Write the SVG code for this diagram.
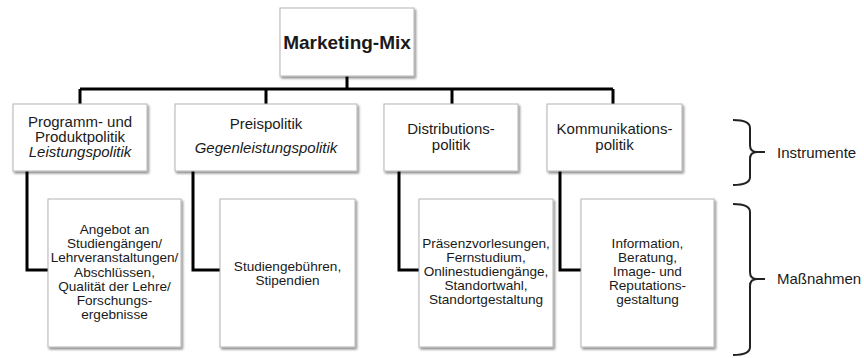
<svg xmlns="http://www.w3.org/2000/svg" width="864" height="358" viewBox="0 0 864 358">
<defs>
<filter id="sh" x="-10%" y="-10%" width="130%" height="130%">
<feDropShadow dx="1.5" dy="2" stdDeviation="1" flood-color="#000" flood-opacity="0.45"/>
</filter>
</defs>
<style>
.box{fill:#fff;stroke:#b4b4b4;stroke-width:1;filter:url(#sh)}
.t{font-family:"Liberation Sans",Arial,sans-serif;fill:#1a1a1a;text-anchor:middle}
.l1{font-size:15px}
.l2{font-size:13.6px}
.it{font-style:italic}
.con{fill:none;stroke:#000;stroke-width:3}
.br{fill:none;stroke:#222;stroke-width:2}
.lab{font-family:"Liberation Sans",Arial,sans-serif;fill:#1a1a1a;font-size:15px}
</style>
<rect width="864" height="358" fill="#fff"/>
<g id="connectors">
<path class="con" d="M347,76V89M80,89H613M80,89V104M266,89V104M452,89V104M613,89V104"/>
<path class="con" d="M27,171V270H48M193,171V270H220M399,171V270H419M560,171V270H581"/>
</g>
<g id="marketing-mix">
<rect class="box" x="280" y="8" width="134" height="68"/>
<text class="t" x="347" y="49" style="font-size:19px;font-weight:bold">Marketing-Mix</text>
</g>
<g id="programm">
<rect class="box" x="13" y="104" width="134" height="67"/>
<text class="t l1" x="80" y="127">Programm- und</text>
<text class="t l1" x="80" y="142">Produktpolitik</text>
<text class="t l1 it" x="80" y="157">Leistungspolitik</text>
</g>
<g id="preis">
<rect class="box" x="175" y="104" width="182" height="67"/>
<text class="t l1" x="266" y="129">Preispolitik</text>
<text class="t l1 it" x="266" y="153">Gegenleistungspolitik</text>
</g>
<g id="distribution">
<rect class="box" x="384" y="104" width="134" height="67"/>
<text class="t l1" x="451" y="134">Distributions-</text>
<text class="t l1" x="451" y="150">politik</text>
</g>
<g id="kommunikation">
<rect class="box" x="547" y="104" width="135" height="67"/>
<text class="t l1" x="614.5" y="134">Kommunikations-</text>
<text class="t l1" x="614.5" y="150">politik</text>
</g>
<g id="angebot">
<rect class="box" x="48" y="199" width="133" height="148"/>
<text class="t l2" x="114.5" y="234">Angebot an</text>
<text class="t l2" x="114.5" y="248.2">Studiengängen/</text>
<text class="t l2" x="114.5" y="262.4">Lehrveranstaltungen/</text>
<text class="t l2" x="114.5" y="276.6">Abschlüssen,</text>
<text class="t l2" x="114.5" y="290.8">Qualität der Lehre/</text>
<text class="t l2" x="114.5" y="305">Forschungs-</text>
<text class="t l2" x="114.5" y="319.2">ergebnisse</text>
</g>
<g id="gebuehren">
<rect class="box" x="220" y="199" width="135" height="148"/>
<text class="t l2" x="287.5" y="271">Studiengebühren,</text>
<text class="t l2" x="287.5" y="285">Stipendien</text>
</g>
<g id="praesenz">
<rect class="box" x="419" y="199" width="134" height="148"/>
<text class="t l2" x="486" y="248">Präsenzvorlesungen,</text>
<text class="t l2" x="486" y="262">Fernstudium,</text>
<text class="t l2" x="486" y="276">Onlinestudiengänge,</text>
<text class="t l2" x="486" y="290">Standortwahl,</text>
<text class="t l2" x="486" y="304">Standortgestaltung</text>
</g>
<g id="information">
<rect class="box" x="581" y="199" width="133" height="148"/>
<text class="t l2" x="647.5" y="248">Information,</text>
<text class="t l2" x="647.5" y="262">Beratung,</text>
<text class="t l2" x="647.5" y="276">Image- und</text>
<text class="t l2" x="647.5" y="290">Reputations-</text>
<text class="t l2" x="647.5" y="304">gestaltung</text>
</g>
<g id="instrumente">
<path class="br" d="M733,120Q750,120 750,128V145Q750,152 757,152H765M757,152Q750,152 750,159V177Q750,185 733,185"/>
<text class="lab" x="777" y="158">Instrumente</text>
</g>
<g id="massnahmen">
<path class="br" d="M733,204Q750,204 750,212V272Q750,279 757,279H765M757,279Q750,279 750,286V347Q750,355 733,355"/>
<text class="lab" x="777" y="284">Maßnahmen</text>
</g>
</svg>
